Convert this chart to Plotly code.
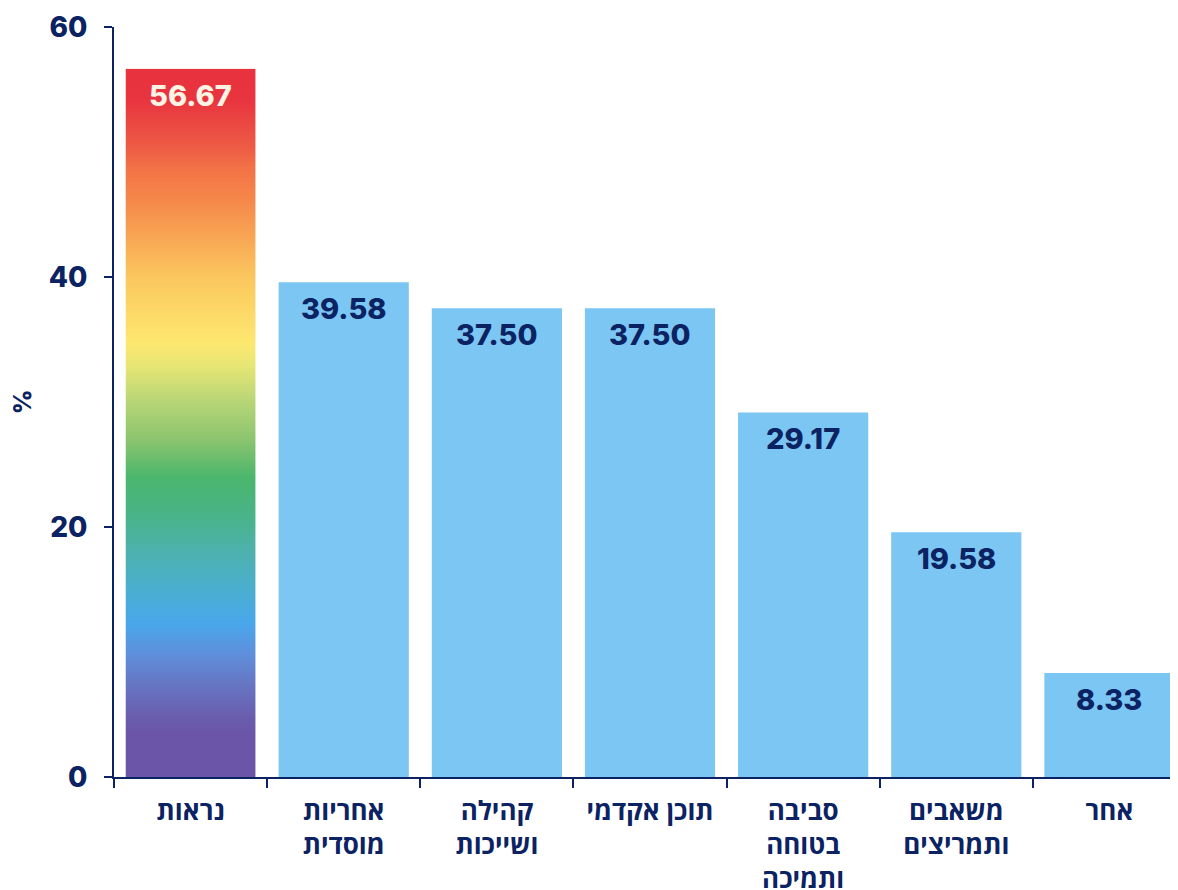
import base64
import plotly.graph_objects as go

# ---- data ----
categories = ["נראות", "אחריות<br>מוסדית", "קהילה<br>ושייכות", "תוכן אקדמי",
              "סביבה<br>בטוחה<br>ותמיכה", "משאבים<br>ותמריצים", "אחר"]
values = [56.67, 39.58, 37.50, 37.50, 29.17, 19.58, 8.33]
y_ticks = [0, 20, 40, 60]
y_title = "%"

# ---- styles ----
NAVY = "#0B2263"
BLUE = "#7BC6F3"
NUM_FONT = "Inter, Roboto, 'Open Sans', sans-serif"
HEB_FONT = "'Open Sans', 'Noto Sans', 'DejaVu Sans', sans-serif"
BARGAP = 0.15
bar_w = 1 - BARGAP

# rainbow gradient (offset from top, colour)
stops = [(0.0, "#E8333F"), (0.045, "#E8343F"), (0.116, "#EE5F45"), (0.14, "#F37246"),
         (0.186, "#F5884A"), (0.295, "#FBC75E"), (0.388, "#FDE870"), (0.42, "#E6E674"),
         (0.468, "#B9D677"), (0.525, "#8AC46E"), (0.577, "#4BB66C"), (0.633, "#48B48A"),
         (0.68, "#4DB1AC"), (0.736, "#4AAFD0"), (0.783, "#49A7EA"), (0.825, "#5E90DC"),
         (0.867, "#6677C4"), (0.915, "#6A5DAE"), (0.938, "#6A55A8"), (1.0, "#6A55A8")]
stop_xml = "".join(f"<stop offset='{o}' stop-color='{c}'/>" for o, c in stops)
svg = ("<svg xmlns='http://www.w3.org/2000/svg' width='10' height='100' preserveAspectRatio='none'>"
       "<defs><linearGradient id='g' x1='0' y1='0' x2='0' y2='1'>" + stop_xml +
       "</linearGradient></defs><rect width='10' height='100' fill='url(#g)'/></svg>")
src = "data:image/svg+xml;base64," + base64.b64encode(svg.encode()).decode()

bar_colors = ["rgba(0,0,0,0)"] + [BLUE] * (len(values) - 1)
text_colors = ["#FFF3E3"] + [NAVY] * (len(values) - 1)

fig = go.Figure()
fig.add_trace(go.Bar(
    x=categories, y=values,
    marker=dict(color=bar_colors, line=dict(width=0)),
    hoverinfo="skip",
))

# value labels near the top inside each bar
for cat, val, col in zip(categories, values, text_colors):
    fig.add_annotation(
        x=cat, y=val, xref="x", yref="y", text=f"{val:.2f}",
        showarrow=False, yanchor="top", xanchor="center", yshift=-7,
        font=dict(family=NUM_FONT, size=29, color=col, weight=800),
    )

fig.add_layout_image(dict(
    source=src, xref="x", yref="y",
    x=0 - bar_w / 2, y=values[0], sizex=bar_w, sizey=values[0],
    xanchor="left", yanchor="top", sizing="stretch", layer="below",
))

fig.update_layout(
    width=1178, height=890,
    margin=dict(l=106, r=0, t=19, b=121),
    paper_bgcolor="white", plot_bgcolor="white",
    bargap=BARGAP, showlegend=False,
    xaxis=dict(
        type="category", range=[-0.5, len(values) - 0.5], automargin=False,
        showline=True, linecolor=NAVY, linewidth=2,
        ticks="outside", tickson="boundaries", ticklen=9, tickwidth=2, tickcolor=NAVY,
        tickfont=dict(family=HEB_FONT, size=26, color=NAVY, weight="bold"),
        showgrid=False, zeroline=False, ticklabelstandoff=10,
    ),
    yaxis=dict(
        range=[0, 60], tickvals=y_ticks, automargin=False,
        showline=True, linecolor=NAVY, linewidth=2,
        ticks="outside", ticklen=8, tickwidth=2, tickcolor=NAVY,
        tickfont=dict(family=NUM_FONT, size=28, color=NAVY, weight=800),
        showgrid=False, zeroline=False, ticklabelstandoff=11,
        title=dict(text=y_title, font=dict(family=NUM_FONT, size=24, color=NAVY, weight=800),
                   standoff=12),
    ),
)

fig.write_html("out.html")
